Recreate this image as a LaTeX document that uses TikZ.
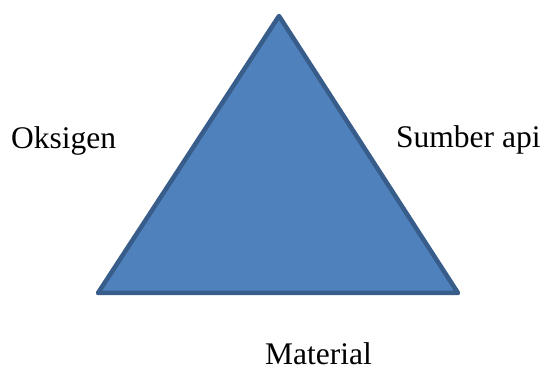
\documentclass[tikz,border=0pt]{standalone}
\usepackage{fontspec}
\setmainfont{Liberation Serif}
\definecolor{triFill}{HTML}{4F81BD}
\definecolor{triLine}{HTML}{385D8A}
\begin{document}
\begin{tikzpicture}[x=1pt,y=-1pt,
  lbl/.style={inner sep=0pt,anchor=base west,font=\fontsize{31.5}{38}\selectfont},
  tri/.style={fill=triFill,draw=triLine,line width=4.5pt,line join=round}]
\useasboundingbox (0,0) rectangle (544,371);
\coordinate (apex) at (279,16);
\coordinate (bl) at (98,293);
\coordinate (br) at (458,293);
\draw[tri] (apex) -- (br) -- (bl) -- cycle;
\node[lbl] (oks) at (11,149) {Oksigen};
\node[lbl] (sum) at (396,148) {Sumber api};
\node[lbl] (mat) at (265,365) {Material};
\end{tikzpicture}
\end{document}
